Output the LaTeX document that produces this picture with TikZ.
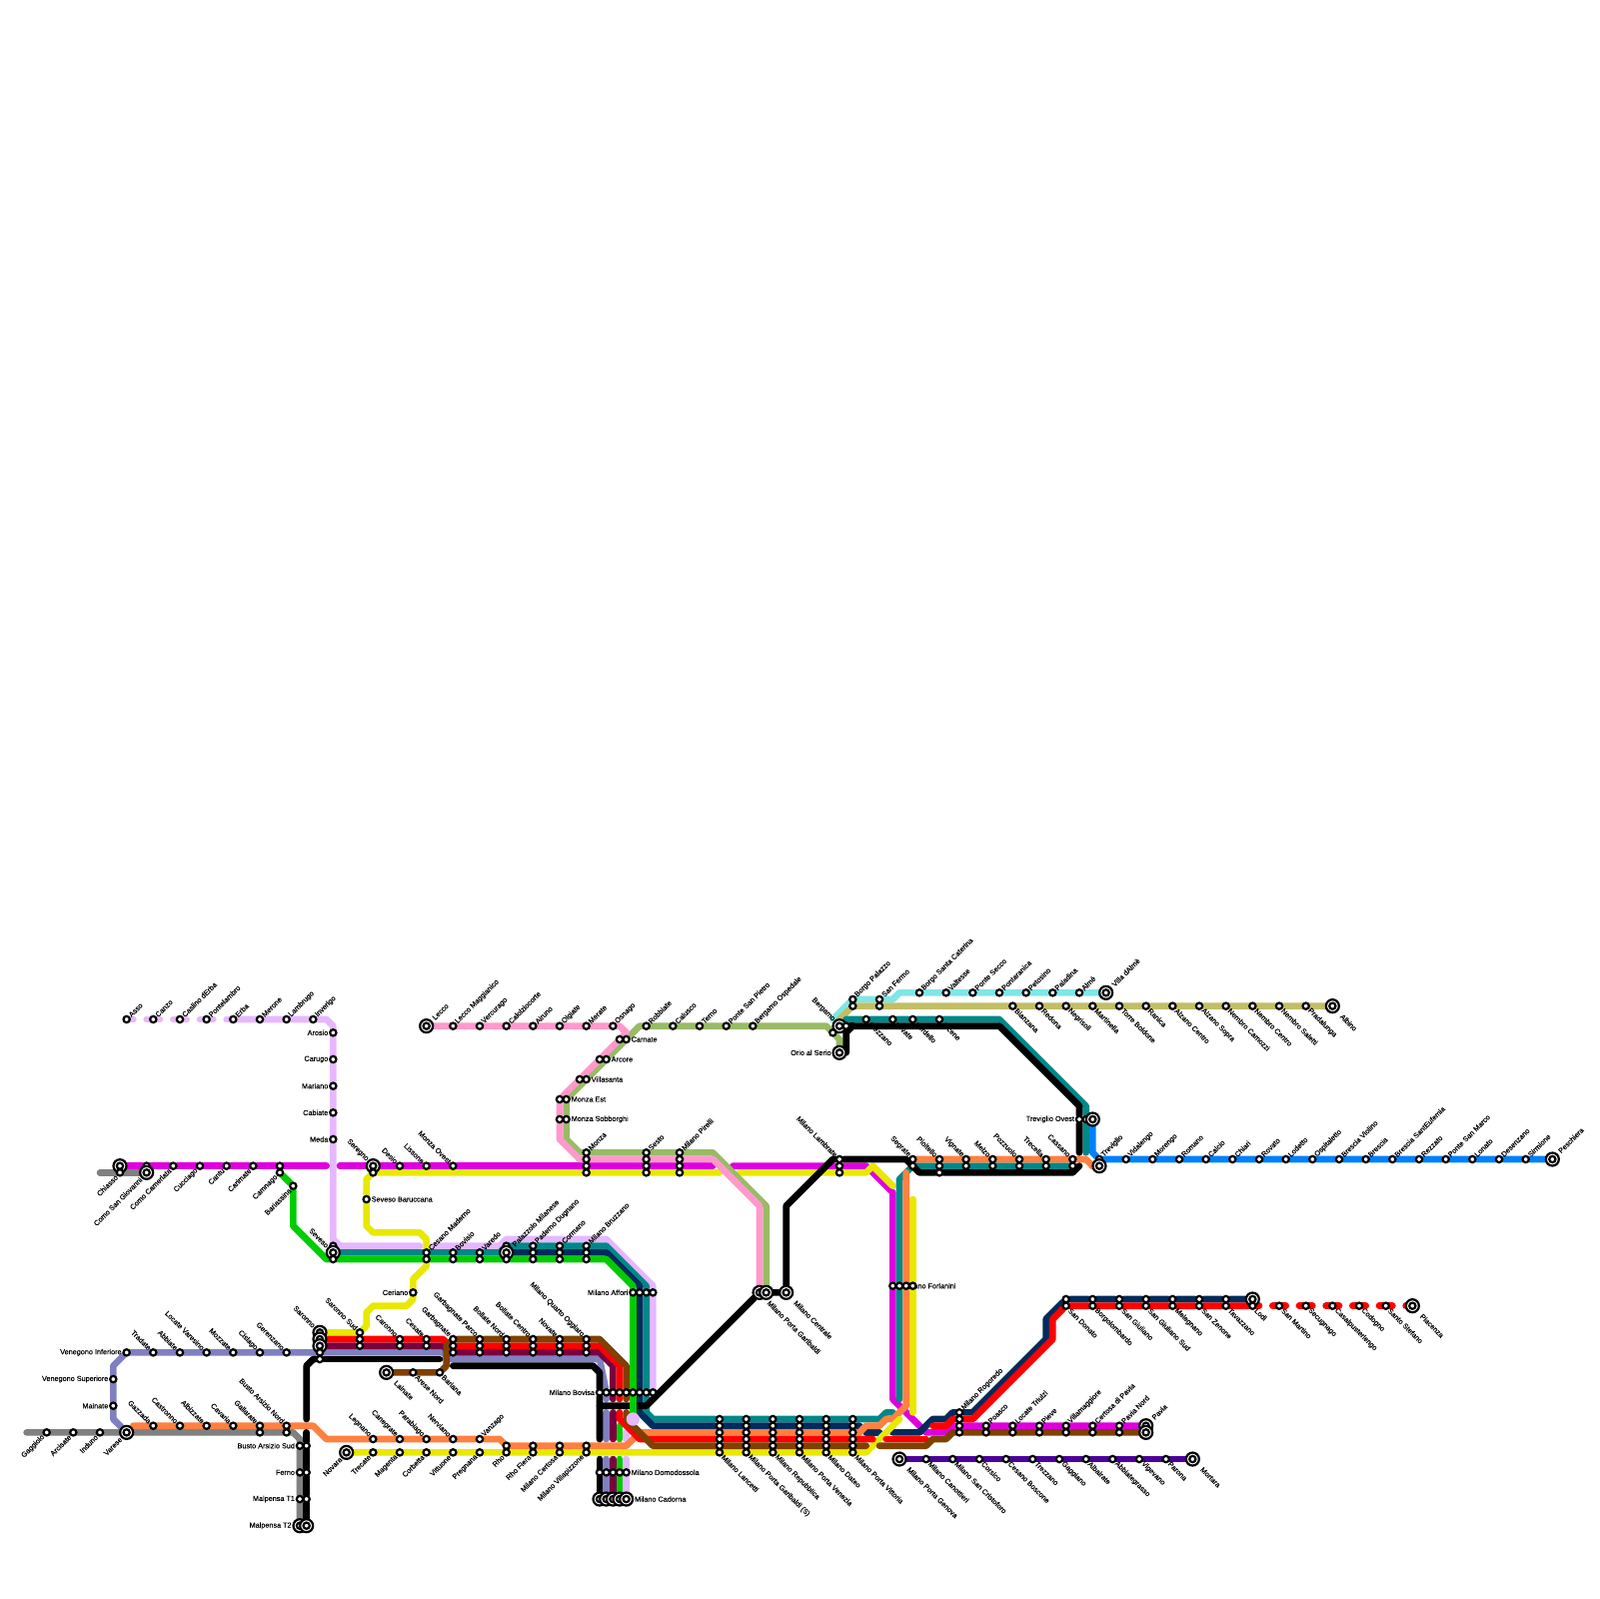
\documentclass[tikz,border=0pt]{standalone}
\usepackage{fontspec}
\setmainfont{Liberation Sans}
\newfontfamily\stnfam[FakeBold=0.25]{Liberation Sans}
\usetikzlibrary{backgrounds}
\definecolor{lngrey}{HTML}{808080}
\definecolor{lnlilac}{HTML}{E6B8FF}
\definecolor{lnmag}{HTML}{DD00DD}
\definecolor{lnteal}{HTML}{008888}
\definecolor{lngreen}{HTML}{00CC00}
\definecolor{lnyellow}{HTML}{E8E800}
\definecolor{lnred}{HTML}{FF0000}
\definecolor{lnmaroon}{HTML}{7A0040}
\definecolor{lnpurple}{HTML}{8080C0}
\definecolor{lnnavy}{HTML}{002B5C}
\definecolor{lnorange}{HTML}{FF8040}
\definecolor{lnbrown}{HTML}{804000}
\definecolor{lnpink}{HTML}{FF99CC}
\definecolor{lnolive}{HTML}{99BB66}
\definecolor{lncyan}{HTML}{80E6E6}
\definecolor{lnkhaki}{HTML}{C2BE66}
\definecolor{lnblue}{HTML}{0080FF}
\definecolor{lnindigo}{HTML}{4B0099}
\newcommand{\stnfont}{\stnfam\fontsize{3.1}{3.4}\selectfont}

\begin{document}
\begin{tikzpicture}[
    x=1mm, y=-1mm,
    stn/.style={circle, draw=black, fill=white, line width=0.33mm, minimum size=0.95mm, inner sep=0pt},
    term/.style={circle, draw=black, fill=white, line width=0.33mm, minimum size=1.95mm, inner sep=0pt,
        path picture={\draw[line width=0.33mm] (path picture bounding box.center) circle (0.47mm);}},
    blob/.style={circle, fill=lnlilac, minimum size=2mm, inner sep=0pt},
    route/.style={draw=#1, line width=1mm, line cap=round, line join=round},
    dashroute/.style={route=#1, dash pattern=on 2mm off 2mm, dash phase=1mm},
    lbl/.style={font=\stnfont, inner sep=0pt},
    lblne/.style={lbl, rotate=45, anchor=west},
    lblse/.style={lbl, rotate=-45, anchor=west},
    lblsw/.style={lbl, rotate=45, anchor=east},
    lblnw/.style={lbl, rotate=-45, anchor=east},
    lblw/.style={lbl, anchor=east},
    lble/.style={lbl, anchor=west},
    tne/.style={label={[lblne]45:#1}},
    tse/.style={label={[lblse]-45:#1}},
    tsw/.style={label={[lblsw]225:#1}},
    tnw/.style={label={[lblnw]135:#1}},
    tw/.style={label={[lblw]180:#1}},
    te/.style={label={[lble]0:#1}},
    ttne/.style={label={[lblne, xshift=0.3mm]45:#1}},
    ttse/.style={label={[lblse, xshift=0.7mm]-45:#1}},
    label distance=0.05mm,
]
\useasboundingbox (0,0) rectangle (240,240);

% Free ends
\coordinate (grstart) at (4,215);
\coordinate (chstart) at (15,176);
\coordinate (orstart) at (20,214);
\coordinate (ligap1) at (63,187);
\coordinate (ligap2) at (65,187);
\coordinate (ligap3) at (94,215);
\coordinate (ligap4) at (94,216);
\coordinate (ligap5) at (94,219);
\coordinate (mggap1) at (49,175);
\coordinate (mggap2) at (51,175);
\coordinate (mggap3) at (107,175);
\coordinate (mggap4) at (110,175);
\coordinate (ylgap1) at (108,176);
\coordinate (ylgap2) at (111,176);
\coordinate (ylgap3) at (134,178);
\coordinate (ylgap4) at (137,180);
\coordinate (ylgap5) at (137,212);
\coordinate (ylgap6) at (135,213);
\coordinate (cystart) at (125,153);
\coordinate (khstart) at (126,153);
\coordinate (testart) at (127,153);
\coordinate (tegap1) at (163,173);
\coordinate (tegap2) at (135,177);
\coordinate (tegap3) at (135,210);
\coordinate (tegap4) at (161,175);
\coordinate (tegap5) at (134,212);
\coordinate (nvgap1) at (129,214);
\coordinate (nvgap2) at (130,215);
\coordinate (nvgap3) at (132,215);
\coordinate (nvgap4) at (134,215);
\coordinate (gngap1) at (95,212);
\coordinate (gngap2) at (93,214);
\coordinate (gngap3) at (93,216);
\coordinate (gngap4) at (93,219);
\coordinate (pugap1) at (91,210);
\coordinate (pugap2) at (91,212);
\coordinate (pugap3) at (91,216);
\coordinate (pugap4) at (91,219);
\coordinate (mrgap1) at (92,210);
\coordinate (mrgap2) at (92,212);
\coordinate (mrgap3) at (92,216);
\coordinate (mrgap4) at (92,219);
\coordinate (rdgap1) at (93,210);
\coordinate (rdgap2) at (93,212);
\coordinate (rdgap3) at (131,216);
\coordinate (rdgap4) at (133,216);
\coordinate (rdgap5) at (139,216);
\coordinate (rdgap6) at (140,214);
\coordinate (brgap1) at (94,210);
\coordinate (brgap2) at (94,212);
\coordinate (brgap3) at (130,217);
\coordinate (brgap4) at (132,217);
\coordinate (orgap1) at (136,176);
\coordinate (bkgap1) at (46,213);
\coordinate (bkgap2) at (46,215);
\coordinate (bkgap3) at (66,204);
\coordinate (bkgap4) at (68,205);
\coordinate (bkgap5) at (90,216);
\coordinate (bkgap6) at (90,219);
\coordinate (bkgap7) at (90,211);
\coordinate (bkgap8) at (162,175);
\coordinate (bkgap9) at (127,158);
\coordinate (bkgap10) at (162,173);

% Stations, Como and Brianza
\node[stn, tne=Asso] (asso) at (19,153) {};
\node[stn, tne=Canzo] (canzo) at (23,153) {};
\node[stn, tne=Caslino dErba] (caslino) at (27,153) {};
\node[stn, tne=Pontelambro] (pontelambro) at (31,153) {};
\node[stn, tne=Erba] (erba) at (35,153) {};
\node[stn, tne=Merone] (merone) at (39,153) {};
\node[stn, tne=Lambrugo] (lambrugo) at (43,153) {};
\node[stn, tne=Inverigo] (inverigo) at (47,153) {};
\node[stn, tw=Arosio] (arosio) at (50,155) {};
\node[stn, tw=Carugo] (carugo) at (50,159) {};
\node[stn, tw=Mariano] (mariano) at (50,163) {};
\node[stn, tw=Cabiate] (cabiate) at (50,167) {};
\node[stn, tw=Meda] (meda) at (50,171) {};
\node[term] (chiasso) at (18,175) {};
\node[stn, tsw=Chiasso] (chiassogr) at (18,176) {};
\node[stn] (comosgmg) at (22,175) {};
\node[term, tsw=Como San Giovanni] (comosggr) at (22,176) {};
\node[stn, tsw=Como Camerlata] (camerlata) at (26,175) {};
\node[stn, tsw=Cucciago] (cucciago) at (30,175) {};
\node[stn, tsw=Cantu] (cantu) at (34,175) {};
\node[stn, tsw=Carimate] (carimate) at (38,175) {};
\node[stn] (camnagomg) at (42,175) {};
\node[stn, tsw=Camnago] (camnagogn) at (42,176) {};
\node[stn, tsw=Bariassina] (bariassina) at (44,178) {};
\node[term, tnw=Seregno] (seregno) at (56,175) {};
\node[stn] (seregnoyl) at (56,176) {};
\node[stn, tnw=Desio] (desio) at (60,175) {};
\node[stn, tnw=Lissone] (lissone) at (64,175) {};
\node[stn, tnw=Monza Ovest] (monzaovest) at (68,175) {};
\node[stn, te=Seveso Baruccana] (baruccana) at (55,180) {};
\node[stn] (sevesoli) at (50,187) {};
\node[term, tnw=Seveso] (sevesote) at (50,188) {};
\node[stn] (sevesogn) at (50,189) {};

% Stations, Seveso branch
\node[stn, tne=Cesano Maderno] (cesanote) at (64,188) {};
\node[stn] (cesanogn) at (64,189) {};
\node[stn, tne=Bovisio] (bovisiote) at (68,188) {};
\node[stn] (bovisiogn) at (68,189) {};
\node[stn, tne=Varedo] (varedote) at (72,188) {};
\node[stn] (varedogn) at (72,189) {};
\node[stn] (palazzolote) at (76,187) {};
\node[term, ttne=Palazzolo Milanese] (palazzolonv) at (76,188) {};
\node[stn] (palazzologn) at (76,189) {};
\node[stn, tne=Paderno Dugnano] (padernote) at (80,187) {};
\node[stn] (padernonv) at (80,188) {};
\node[stn] (padernogn) at (80,189) {};
\node[stn, tne=Cormano] (cormanote) at (84,187) {};
\node[stn] (cormanonv) at (84,188) {};
\node[stn] (cormanogn) at (84,189) {};
\node[stn, tne=Milano Bruzzano] (bruzzanote) at (88,187) {};
\node[stn] (bruzzanonv) at (88,188) {};
\node[stn] (bruzzanogn) at (88,189) {};
\node[stn, tw=Milano Affori] (afforign) at (95,194) {};
\node[stn] (afforinv) at (96,194) {};
\node[stn] (afforite) at (97,194) {};
\node[stn] (afforili) at (98,194) {};
\node[stn, tw=Ceriano] (ceriano) at (62,194) {};

% Stations, Saronno
\node[term, tnw=Saronno] (saronnoyl) at (48,200) {};
\node[term] (saronnord) at (48,201) {};
\node[term] (saronnomr) at (48,202) {};
\node[stn] (saronnopu) at (48,203) {};
\node[stn] (saronnobk) at (48,204) {};
\node[stn, tnw=Saronno Sud] (sarsudyl) at (54,200) {};
\node[stn] (sarsudrd) at (54,201) {};
\node[stn] (sarsudmr) at (54,202) {};
\node[stn, tnw=Caronno] (caronnord) at (60,201) {};
\node[stn] (caronnomr) at (60,202) {};
\node[stn, tnw=Cesate] (cesaterd) at (64,201) {};
\node[stn] (cesatemr) at (64,202) {};
\node[stn, tnw=Garbagnate] (garbbr) at (68,201) {};
\node[stn] (garbrd) at (68,202) {};
\node[stn] (garbmr) at (68,203) {};
\node[stn, tnw=Garbagnate Parco] (parcobr) at (72,201) {};
\node[stn] (parcord) at (72,202) {};
\node[stn] (parcomr) at (72,203) {};
\node[stn, tnw=Bollate Nord] (bollnbr) at (76,201) {};
\node[stn] (bollnrd) at (76,202) {};
\node[stn] (bollnmr) at (76,203) {};
\node[stn, tnw=Bollate Centro] (bollcbr) at (80,201) {};
\node[stn] (bollcrd) at (80,202) {};
\node[stn] (bollcmr) at (80,203) {};
\node[stn, tnw=Novate] (novatebr) at (84,201) {};
\node[stn] (novaterd) at (84,202) {};
\node[stn] (novatemr) at (84,203) {};
\node[stn, tnw=Milano Quarto Oggiaro] (quartobr) at (88,201) {};
\node[stn] (quartord) at (88,202) {};
\node[stn] (quartomr) at (88,203) {};
\node[term, ttse=Lainate] (lainate) at (58,206) {};
\node[stn, tse=Arese Nord] (arese) at (62,206) {};
\node[stn, tse=Bariana] (bariana) at (66,206) {};

% Stations, Varese and Malpensa
\node[stn, tw=Venegono Inferiore] (inferiore) at (19,203) {};
\node[stn, tw=Venegono Superiore] (superiore) at (17,207) {};
\node[stn, tw=Mainate] (mainate) at (17,211) {};
\node[stn, tnw=Tradate] (tradate) at (23,203) {};
\node[stn, tnw=Abbiate] (abbiate) at (27,203) {};
\node[stn, tnw=Locate Varesino] (varesino) at (31,203) {};
\node[stn, tnw=Mozzate] (mozzate) at (35,203) {};
\node[stn, tnw=Cislago] (cislago) at (39,203) {};
\node[stn, tnw=Gerenzano] (gerenzano) at (43,203) {};
\node[stn, tnw=Gazzada] (gazzada) at (23,214) {};
\node[stn, tnw=Castronno] (castronno) at (27,214) {};
\node[stn, tnw=Albizzate] (albizzate) at (31,214) {};
\node[stn, tnw=Cavaria] (cavaria) at (35,214) {};
\node[stn, tnw=Gallarate] (gallarateor) at (39,214) {};
\node[stn, tnw=Busto Arsizio Nord] (bustonordor) at (43,214) {};
\node[stn, tsw=Gaggiolo] (gaggiolo) at (7,215) {};
\node[stn, tsw=Arcisate] (arcisate) at (11,215) {};
\node[stn, tsw=Induno] (induno) at (15,215) {};
\node[term, tsw=Varese] (varese) at (19,215) {};
\node[stn] (gallarategr) at (39,215) {};
\node[stn] (bustonordgr) at (43,215) {};
\node[stn, tw=Busto Arsizio Sud] (bustosudgr) at (45,217) {};
\node[stn] (bustosudbk) at (46,217) {};
\node[stn, tw=Ferno] (fernogr) at (45,221) {};
\node[stn] (fernobk) at (46,221) {};
\node[stn, tw=Malpensa T1] (tunogr) at (45,225) {};
\node[stn] (tunobk) at (46,225) {};
\node[term, tw=Malpensa T2] (tduegr) at (45,229) {};
\node[term] (tduebk) at (46,229) {};

% Stations, Novara and Rho
\node[stn, tnw=Legnano] (legnano) at (56,216) {};
\node[stn, tnw=Canegrate] (canegrate) at (60,216) {};
\node[stn, tnw=Parabiago] (parabiago) at (64,216) {};
\node[stn, tnw=Nerviano] (nerviano) at (68,216) {};
\node[stn, tne=Vanzago] (vanzago) at (72,216) {};
\node[term, tsw=Novara] (novara) at (52,218) {};
\node[stn, tsw=Trecate] (trecate) at (56,218) {};
\node[stn, tsw=Magenta] (magenta) at (60,218) {};
\node[stn, tsw=Corbetta] (corbetta) at (64,218) {};
\node[stn, tsw=Vittuone] (vittuone) at (68,218) {};
\node[stn, tsw=Pregnana] (pregnana) at (72,218) {};
\node[stn] (rhoor) at (76,217) {};
\node[stn, tsw=Rho] (rhoyl) at (76,218) {};
\node[stn] (fieraor) at (80,217) {};
\node[stn, tsw=Rho Fiera] (fierayl) at (80,218) {};
\node[stn] (certosaor) at (84,217) {};
\node[stn, tsw=Milano Certosa] (certosayl) at (84,218) {};
\node[stn] (villapizzor) at (88,217) {};
\node[stn, tsw=Milano Villapizzone] (villapizzyl) at (88,218) {};

% Stations, Bovisa to Cadorna
\node[stn, tw=Milano Bovisa] (bovisabk) at (90,209) {};
\node[stn] (bovisapu) at (91,209) {};
\node[stn] (bovisamr) at (92,209) {};
\node[stn] (bovisard) at (93,209) {};
\node[stn] (bovisabr) at (94,209) {};
\node[stn] (bovisagn) at (95,209) {};
\node[stn] (bovisanv) at (96,209) {};
\node[stn] (bovisate) at (97,209) {};
\node[stn] (bovisali) at (98,209) {};
\node[stn] (domobk) at (90,221) {};
\node[stn] (domopu) at (91,221) {};
\node[stn] (domomr) at (92,221) {};
\node[stn] (domogn) at (93,221) {};
\node[stn, te=Milano Domodossola] (domoli) at (94,221) {};
\node[term] (cadornabk) at (90,225) {};
\node[term] (cadornapu) at (91,225) {};
\node[term] (cadornamr) at (92,225) {};
\node[term] (cadornagn) at (93,225) {};
\node[term, te=Milano Cadorna] (cadornali) at (94,225) {};
\node[blob] (blobbovisa) at (95,213) {};

% Stations, Lecco and Bergamo
\node[term, ttne=Lecco] (lecco) at (64,154) {};
\node[stn, tne=Lecco Maggianico] (maggianico) at (68,154) {};
\node[stn, tne=Vercurago] (vercurago) at (72,154) {};
\node[stn, tne=Calolziocorte] (calolzio) at (76,154) {};
\node[stn, tne=Airuno] (airuno) at (80,154) {};
\node[stn, tne=Olgiate] (olgiate) at (84,154) {};
\node[stn, tne=Merate] (merate) at (88,154) {};
\node[stn, tne=Osnago] (osnago) at (92,154) {};
\node[stn] (carnatepk) at (93,156) {};
\node[stn, te=Carnate] (carnateol) at (94,156) {};
\node[stn] (arcorepk) at (90,159) {};
\node[stn, te=Arcore] (arcoreol) at (91,159) {};
\node[stn] (villasantapk) at (87,162) {};
\node[stn, te=Villasanta] (villasantaol) at (88,162) {};
\node[stn] (monzaestpk) at (84,165) {};
\node[stn, te=Monza Est] (monzaestol) at (85,165) {};
\node[stn] (sobborghipk) at (84,168) {};
\node[stn, te=Monza Sobborghi] (sobborghiol) at (85,168) {};
\node[stn, tne=Monza] (monzaol) at (88,173) {};
\node[stn] (monzapk) at (88,174) {};
\node[stn] (monzamg) at (88,175) {};
\node[stn] (monzayl) at (88,176) {};
\node[stn, tne=Sesto] (sestool) at (97,173) {};
\node[stn] (sestopk) at (97,174) {};
\node[stn] (sestomg) at (97,175) {};
\node[stn] (sestoyl) at (97,176) {};
\node[stn, tne=Milano Pirelli] (pirelliol) at (102,173) {};
\node[stn] (pirellipk) at (102,174) {};
\node[stn] (pirellimg) at (102,175) {};
\node[stn] (pirelliyl) at (102,176) {};
\node[stn, tne=Robbiate] (robbiate) at (97,154) {};
\node[stn, tne=Calusco] (calusco) at (101,154) {};
\node[stn, tne=Terno] (terno) at (105,154) {};
\node[stn, tne=Ponte San Pietro] (sanpietro) at (109,154) {};
\node[stn, tne=Bergamo Ospedale] (ospedale) at (113,154) {};
\node[term, tnw=Bergamo] (bergamo) at (126,154) {};
\node[stn] (bergamool) at (125,155) {};
\node[stn] (bergamobk) at (127,154) {};
\node[term, tw=Orio al Serio] (orio) at (126,158) {};
\node[stn, tne=Borgo Palazzo] (palazzocy) at (128,150) {};
\node[stn] (palazzokh) at (128,151) {};
\node[stn, tne=San Fermo] (fermocy) at (132,150) {};
\node[stn] (fermokh) at (132,151) {};
\node[stn, tne=Borgo Santa Caterina] (caterina) at (138,149) {};
\node[stn, tne=Valtesse] (valtesse) at (142,149) {};
\node[stn, tne=Ponte Secco] (pontesecco) at (146,149) {};
\node[stn, tne=Pontaranica] (pontaranica) at (150,149) {};
\node[stn, tne=Petosino] (petosino) at (154,149) {};
\node[stn, tne=Paladina] (paladina) at (158,149) {};
\node[stn, tne=Almè] (alme) at (162,149) {};
\node[term, ttne=Villa dAlmè] (villaalme) at (166,149) {};
\node[stn, tse=Bianzana] (bianzana) at (152,151) {};
\node[stn, tse=Redona] (redona) at (156,151) {};
\node[stn, tse=Negrisoli] (negrisoli) at (160,151) {};
\node[stn, tse=Martinella] (martinella) at (164,151) {};
\node[stn, tse=Torre Boldone] (boldone) at (168,151) {};
\node[stn, tse=Ranica] (ranica) at (172,151) {};
\node[stn, tse=Alzano Centro] (alzanoc) at (176,151) {};
\node[stn, tse=Alzano Sopra] (alzanos) at (180,151) {};
\node[stn, tse=Nembro Camozzi] (camozzi) at (184,151) {};
\node[stn, tse=Nembro Centro] (nembroc) at (188,151) {};
\node[stn, tse=Nembro Saletti] (saletti) at (192,151) {};
\node[stn, tse=Pradalunga] (pradalunga) at (196,151) {};
\node[term, ttse=Albino] (albino) at (200,151) {};
\node[stn] (stezzano) at (130,153) {};
\node[stn] (levate) at (134,153) {};
\node[stn] (verdello) at (137,153) {};
\node[stn] (arcene) at (141,153) {};

% Stations, Treviglio and Brescia
\node[stn, tw=Treviglio Ovest] (ovestbk) at (162,168) {};
\node[stn] (ovestte) at (163,168) {};
\node[term] (ovest) at (164,168) {};
\node[stn, tnw=Milano Lambrate] (lambratebk) at (126,174) {};
\node[stn] (lambratemg) at (126,175) {};
\node[stn] (lambrateyl) at (126,176) {};
\node[stn, tnw=Segrate] (segrateor) at (137,174) {};
\node[stn] (segratete) at (137,175) {};
\node[stn, tnw=Pioltello] (pioltelloor) at (141,174) {};
\node[stn] (pioltellote) at (141,175) {};
\node[stn] (pioltellobk) at (141,176) {};
\node[stn, tnw=Vignate] (vignateor) at (145,174) {};
\node[stn] (vignatete) at (145,175) {};
\node[stn, tnw=Melzo] (melzoor) at (149,174) {};
\node[stn] (melzote) at (149,175) {};
\node[stn, tnw=Pozzuolo] (pozzuoloor) at (153,174) {};
\node[stn] (pozzuolote) at (153,175) {};
\node[stn, tnw=Trecella] (trecellaor) at (157,174) {};
\node[stn] (trecellate) at (157,175) {};
\node[stn, tnw=Cassano] (cassanoor) at (161,174) {};
\node[stn] (cassanote) at (161,175) {};
\node[stn, tne=Treviglio] (treviglio) at (165,174) {};
\node[term] (trevigliot) at (165,175) {};
\node[stn, tne=Vidalengo] (vidalengo) at (169,174) {};
\node[stn, tne=Morengo] (morengo) at (173,174) {};
\node[stn, tne=Romano] (romano) at (177,174) {};
\node[stn, tne=Calcio] (calcio) at (181,174) {};
\node[stn, tne=Chiari] (chiari) at (185,174) {};
\node[stn, tne=Rovato] (rovato) at (189,174) {};
\node[stn, tne=Lodetto] (lodetto) at (193,174) {};
\node[stn, tne=Ospitaletto] (ospitaletto) at (197,174) {};
\node[stn, tne=Brescia Violino] (violino) at (201,174) {};
\node[stn, tne=Brescia] (brescia) at (205,174) {};
\node[stn, tne=Brescia SantEufemia] (eufemia) at (209,174) {};
\node[stn, tne=Rezzato] (rezzato) at (213,174) {};
\node[stn, tne=Ponte San Marco] (sanmarco) at (217,174) {};
\node[stn, tne=Lonato] (lonato) at (221,174) {};
\node[stn, tne=Desenzano] (desenzano) at (225,174) {};
\node[stn, tne=Sirmione] (sirmione) at (229,174) {};
\node[term, ttne=Peschiera] (peschiera) at (233,174) {};

% Stations, Passante
\node[term, ttse=Milano Porta Garibaldi] (garibaldipk) at (114,194) {};
\node[term] (garibaldiol) at (115,194) {};
\node[term, ttse=Milano Centrale] (centrale) at (118,194) {};
\node[stn] (forlaninimg) at (134,193) {};
\node[stn] (forlaninite) at (135,193) {};
\node[stn] (forlaninior) at (136,193) {};
\node[stn] (forlaniniyl) at (137,193) {};
\node[stn] (lancettite) at (108,213) {};
\node[stn] (lancettinv) at (108,214) {};
\node[stn] (lancettior) at (108,215) {};
\node[stn] (lancettird) at (108,216) {};
\node[stn] (lancettibr) at (108,217) {};
\node[stn, tse=Milano Lancetti] (lancettiyl) at (108,218) {};
\node[stn] (garisute) at (112,213) {};
\node[stn] (garisunv) at (112,214) {};
\node[stn] (garisuor) at (112,215) {};
\node[stn] (garisurd) at (112,216) {};
\node[stn] (garisubr) at (112,217) {};
\node[stn, tse=Milano Porta Garibaldi (S)] (garisuyl) at (112,218) {};
\node[stn] (repubte) at (116,213) {};
\node[stn] (repubnv) at (116,214) {};
\node[stn] (repubor) at (116,215) {};
\node[stn] (repubrd) at (116,216) {};
\node[stn] (repubbr) at (116,217) {};
\node[stn, tse=Milano Repubblica] (repubyl) at (116,218) {};
\node[stn] (veneziate) at (120,213) {};
\node[stn] (venezianv) at (120,214) {};
\node[stn] (veneziaor) at (120,215) {};
\node[stn] (veneziard) at (120,216) {};
\node[stn] (veneziabr) at (120,217) {};
\node[stn, tse=Milano Porta Venezia] (veneziayl) at (120,218) {};
\node[stn] (dateote) at (124,213) {};
\node[stn] (dateonv) at (124,214) {};
\node[stn] (dateoor) at (124,215) {};
\node[stn] (dateord) at (124,216) {};
\node[stn] (dateobr) at (124,217) {};
\node[stn, tse=Milano Dateo] (dateoyl) at (124,218) {};
\node[stn] (vittoriate) at (128,213) {};
\node[stn] (vittorianv) at (128,214) {};
\node[stn] (vittoriaor) at (128,215) {};
\node[stn] (vittoriard) at (128,216) {};
\node[stn] (vittoriabr) at (128,217) {};
\node[stn, tse=Milano Porta Vittoria] (vittoriayl) at (128,218) {};

% Stations, south east
\node[stn, tne=Milano Rogoredo] (rogoredonv) at (144,212) {};
\node[stn] (rogoredord) at (144,213) {};
\node[stn] (rogoredomg) at (144,214) {};
\node[stn] (rogoredobr) at (144,215) {};
\node[stn, tne=Poasco] (poascomg) at (148,214) {};
\node[stn] (poascobr) at (148,215) {};
\node[stn, tne=Locate Triulzi] (triulzimg) at (152,214) {};
\node[stn] (triulzibr) at (152,215) {};
\node[stn, tne=Pieve] (pievemg) at (156,214) {};
\node[stn] (pievebr) at (156,215) {};
\node[stn, tne=Villamaggiore] (villamagmg) at (160,214) {};
\node[stn] (villamagbr) at (160,215) {};
\node[stn, tne=Certosa di Pavia] (cpaviamg) at (164,214) {};
\node[stn] (cpaviabr) at (164,215) {};
\node[stn, tne=Pavia Nord] (pnordmg) at (168,214) {};
\node[stn] (pnordbr) at (168,215) {};
\node[term, ttne=Pavia] (paviamg) at (172,214) {};
\node[term] (paviabr) at (172,215) {};
\node[stn] (donatonv) at (160,195) {};
\node[stn, tse=San Donato] (donatord) at (160,196) {};
\node[stn] (borgonv) at (164,195) {};
\node[stn, tse=Borgolombardo] (borgord) at (164,196) {};
\node[stn] (giulianonv) at (168,195) {};
\node[stn, tse=San Giuliano] (giulianord) at (168,196) {};
\node[stn] (giusudnv) at (172,195) {};
\node[stn, tse=San Giuliano Sud] (giusudrd) at (172,196) {};
\node[stn] (melegnanonv) at (176,195) {};
\node[stn, tse=Melegnano] (melegnanord) at (176,196) {};
\node[stn] (zenonenv) at (180,195) {};
\node[stn, tse=San Zenone] (zenonerd) at (180,196) {};
\node[stn] (tavazzanonv) at (184,195) {};
\node[stn, tse=Tavazzano] (tavazzanord) at (184,196) {};
\node[term] (lodinv) at (188,195) {};
\node[stn, tse=Lodi] (lodird) at (188,196) {};
\node[stn, tse=San Martino] (sanmartino) at (192,196) {};
\node[stn, tse=Secugnago] (secugnago) at (196,196) {};
\node[stn, tse=Casalpusterlengo] (casalp) at (200,196) {};
\node[stn, tse=Codogno] (codogno) at (204,196) {};
\node[stn, tse=Santo Stefano] (santostefano) at (208,196) {};
\node[term, ttse=Piacenza] (piacenza) at (212,196) {};
\node[term, ttse=Milano Porta Genova] (genova) at (135,219) {};
\node[stn, tse=Milano Canottieri] (canottieri) at (139,219) {};
\node[stn, tse=Milano San Cristoforo] (cristoforo) at (143,219) {};
\node[stn, tse=Corsico] (corsico) at (147,219) {};
\node[stn, tse=Cesano Boscone] (boscone) at (151,219) {};
\node[stn, tse=Trezzano] (trezzano) at (155,219) {};
\node[stn, tse=Gaggiano] (gaggiano) at (159,219) {};
\node[stn, tse=Albairate] (albairate) at (163,219) {};
\node[stn, tse=Abbiategrasso] (abbiategrasso) at (167,219) {};
\node[stn, tse=Vigevano] (vigevano) at (171,219) {};
\node[stn, tse=Parona] (parona) at (175,219) {};
\node[term, ttse=Mortara] (mortara) at (179,219) {};

\begin{scope}[on background layer]
% Labels under the routes
\node[lblse] (stezzanolb) at (130.5,153.5) {Stezzano};
\node[lblse] (levatelb) at (134.5,153.5) {Levate};
\node[lblse] (verdellolb) at (137.5,153.5) {Verdello};
\node[lblse] (arcenelb) at (141.5,153.5) {Arcene};
\node[lble] (forlaninilb) at (135.7,193) {Milano Forlanini};

% Routes
\draw[route=lngrey] (grstart) -- (gaggiolo) -- (arcisate) -- (induno) -- (varese) -- (gallarategr) -- (bustonordgr) -- (44,215) -- (45,216) -- (bustosudgr) -- (fernogr) -- (tunogr) -- (tduegr);
\draw[route=lngrey] (chstart) -- (chiassogr) -- (comosggr);

\draw[dashroute=lnlilac] (asso.center) -- (erba.center);
\draw[route=lnlilac] (erba) -- (merone) -- (lambrugo) -- (inverigo) -- (49,153) -- (50,154) -- (arosio) -- (carugo) -- (mariano) -- (cabiate) -- (meda) -- (sevesoli);
\draw[route=lnlilac] (50,186) -- (51,187) -- (ligap1);
\draw[route=lnlilac] (ligap2) -- (75,187) -- (76,186) -- (91,186) -- (98,193) -- (afforili) -- (bovisali);
\draw[route=lnlilac] (ligap3) -- (ligap4);
\draw[route=lnlilac] (ligap5) -- (domoli) -- (cadornali);

\draw[route=lnmag] (chiasso) -- (comosgmg) -- (camerlata) -- (cucciago) -- (cantu) -- (carimate) -- (camnagomg) -- (mggap1);
\draw[route=lnmag] (mggap2) -- (seregno) -- (desio) -- (lissone) -- (monzaovest) -- (monzamg) -- (sestomg) -- (pirellimg) -- (mggap3);
\draw[route=lnmag] (mggap4) -- (lambratemg) -- (130,175) -- (134,179) -- (forlaninimg) -- (134,210) -- (139,215) -- (142,215) -- (143,214) -- (rogoredomg) -- (poascomg) -- (triulzimg) -- (pievemg) -- (villamagmg) -- (cpaviamg) -- (pnordmg) -- (paviamg);

\draw[route=lnyellow] (saronnoyl) -- (sarsudyl) -- (55,199) -- (55,197) -- (56,196) -- (61,196) -- (62,195) -- (ceriano) -- (62,192) -- (64,190) -- (64,186) -- (63,185) -- (56,185) -- (55,184) -- (baruccana) -- (55,177) -- (seregnoyl) -- (monzayl) -- (sestoyl) -- (pirelliyl) -- (ylgap1);
\draw[route=lnyellow] (ylgap2) -- (lambrateyl) -- (130,176) -- (131,175) -- (ylgap3);
\draw[route=lnyellow] (ylgap4) -- (forlaniniyl) -- (ylgap5);

\draw[route=lncyan] (cystart) -- (palazzocy) -- (fermocy) -- (134,150) -- (135,149) -- (caterina) -- (valtesse) -- (pontesecco) -- (pontaranica) -- (petosino) -- (paladina) -- (alme) -- (villaalme);
\draw[route=lnkhaki] (khstart) -- (palazzokh) -- (fermokh) -- (bianzana) -- (redona) -- (negrisoli) -- (martinella) -- (boldone) -- (ranica) -- (alzanoc) -- (alzanos) -- (camozzi) -- (nembroc) -- (saletti) -- (pradalunga) -- (albino);
\draw[route=lnolive] (orio) -- (126,156) -- (bergamool) -- (124,154) -- (ospedale) -- (sanpietro) -- (terno) -- (calusco) -- (robbiate) -- (96,154) -- (carnateol) -- (arcoreol) -- (villasantaol) -- (monzaestol) -- (sobborghiol) -- (85,171) -- (87,173) -- (monzaol) -- (sestool) -- (pirelliol) -- (107,173) -- (115,181) -- (garibaldiol);
\draw[route=lnpink] (lecco) -- (maggianico) -- (vercurago) -- (calolzio) -- (airuno) -- (olgiate) -- (merate) -- (osnago) -- (93,154) -- (94,155) -- (carnatepk) -- (arcorepk) -- (villasantapk) -- (monzaestpk) -- (sobborghipk) -- (84,171) -- (87,174) -- (monzapk) -- (sestopk) -- (pirellipk) -- (107,174) -- (114,181) -- (garibaldipk);

\draw[route=lnteal] (sevesote) -- (cesanote) -- (bovisiote) -- (varedote) -- (75,188) -- (palazzolote) -- (padernote) -- (cormanote) -- (bruzzanote) -- (91,187) -- (97,193) -- (afforite) -- (bovisate) -- (97,212) -- (98,213) -- (lancettite) -- (garisute) -- (repubte) -- (veneziate) -- (dateote) -- (vittoriate) -- (132,213) -- (133,212) -- (tegap5);
\draw[route=lnteal] (testart) -- (stezzano) -- (levate) -- (verdello) -- (arcene) -- (150,153) -- (163,166) -- (ovestte) -- (tegap1);
\draw[route=lnteal] (tegap3) -- (forlaninite) -- (tegap2) -- (segratete) -- (pioltellote) -- (vignatete) -- (melzote) -- (pozzuolote) -- (trecellate) -- (cassanote) -- (tegap4);

\draw[route=lnnavy] (palazzolonv) -- (padernonv) -- (cormanonv) -- (bruzzanonv) -- (91,188) -- (96,193) -- (afforinv) -- (bovisanv) -- (96,212) -- (98,214) -- (lancettinv) -- (garisunv) -- (repubnv) -- (venezianv) -- (dateonv) -- (vittorianv) -- (nvgap1);
\draw[route=lnnavy] (nvgap2) -- (nvgap3);
\draw[route=lnnavy] (nvgap4) -- (138,215) -- (140,213) -- (142,213) -- (143,212) -- (rogoredonv) -- (146,212) -- (157,201) -- (157,198) -- (donatonv) -- (borgonv) -- (giulianonv) -- (giusudnv) -- (melegnanonv) -- (zenonenv) -- (tavazzanonv) -- (lodinv);

\draw[route=lngreen] (camnagogn) -- (bariassina) -- (44,184) -- (49,189) -- (sevesogn) -- (cesanogn) -- (bovisiogn) -- (varedogn) -- (palazzologn) -- (padernogn) -- (cormanogn) -- (bruzzanogn) -- (91,189) -- (95,193) -- (afforign);
\draw[route=lngreen] (gngap2) -- (gngap3);
\draw[route=lngreen] (gngap4) -- (domogn) -- (cadornagn);

\draw[route=lnpurple] (varese) -- (17,213) -- (mainate) -- (superiore) -- (17,205) -- (inferiore) -- (tradate) -- (abbiate) -- (varesino) -- (mozzate) -- (cislago) -- (gerenzano) -- (saronnopu) -- (66.5,203) -- (67.5,204) -- (90,204) -- (bovisapu) -- (pugap1);
\draw[route=lnpurple] (pugap2) -- (pugap3);
\draw[route=lnpurple] (pugap4) -- (domopu) -- (cadornapu);

\draw[route=lnmaroon] (saronnomr) -- (sarsudmr) -- (caronnomr) -- (cesatemr) -- (66.5,202) -- (67.5,203) -- (garbmr) -- (parcomr) -- (bollnmr) -- (bollcmr) -- (novatemr) -- (quartomr) -- (90,203) -- (92,205) -- (bovisamr) -- (mrgap1);
\draw[route=lnmaroon] (mrgap2) -- (mrgap3);
\draw[route=lnmaroon] (mrgap4) -- (domomr) -- (cadornamr);

\draw[route=lnorange] (orstart) -- (gazzada) -- (castronno) -- (albizzate) -- (cavaria) -- (gallarateor) -- (bustonordor) -- (47,214) -- (49,216) -- (legnano) -- (canegrate) -- (parabiago) -- (nerviano) -- (vanzago) -- (75,216) -- (rhoor) -- (fieraor) -- (certosaor) -- (villapizzor) -- (94,217) -- (96,215) -- (lancettior) -- (garisuor) -- (repubor) -- (veneziaor) -- (dateoor) -- (vittoriaor) -- (129,215) -- (130,214) -- (132,214) -- (133,213) -- (134,213) -- (136,211) -- (forlaninior) -- (orgap1);
\draw[route=lnorange] (segrateor) -- (pioltelloor) -- (vignateor) -- (melzoor) -- (pozzuoloor) -- (trecellaor) -- (cassanoor) -- (163,174) -- (164,175) -- (trevigliot);

\draw[route=lnyellow] (novara) -- (trecate) -- (magenta) -- (corbetta) -- (vittuone) -- (pregnana) -- (rhoyl) -- (fierayl) -- (certosayl) -- (villapizzyl) -- (lancettiyl) -- (garisuyl) -- (repubyl) -- (veneziayl) -- (dateoyl) -- (vittoriayl) -- (130,218) -- (ylgap6);

\draw[route=lnred] (saronnord) -- (sarsudrd) -- (caronnord) -- (cesaterd) -- (66.5,201) -- (67.5,202) -- (garbrd) -- (parcord) -- (bollnrd) -- (bollcrd) -- (novaterd) -- (quartord) -- (90,202) -- (93,205) -- (bovisard) -- (rdgap1);
\draw[route=lnred] (rdgap2) -- (93,213) -- (96,216) -- (lancettird) -- (garisurd) -- (repubrd) -- (veneziard) -- (dateord) -- (vittoriard) -- (rdgap3);
\draw[route=lnred] (rdgap4) -- (rdgap5);
\draw[route=lnred] (rdgap6) -- (142,214) -- (143,213) -- (rogoredord) -- (146,213) -- (158,201) -- (158,198) -- (donatord) -- (borgord) -- (giulianord) -- (giusudrd) -- (melegnanord) -- (zenonerd) -- (tavazzanord) -- (lodird);
\draw[dashroute=lnred] (lodird.center) -- (piacenza.center);

\draw[route=lnbrown] (lainate) -- (arese) -- (bariana) -- (67,205) -- (67,202) -- (garbbr) -- (parcobr) -- (bollnbr) -- (bollcbr) -- (novatebr) -- (quartobr) -- (90,201) -- (94,205) -- (bovisabr) -- (brgap1);
\draw[route=lnbrown] (brgap2) -- (94,213) -- (98,217) -- (lancettibr) -- (garisubr) -- (repubbr) -- (veneziabr) -- (dateobr) -- (vittoriabr) -- (brgap3);
\draw[route=lnbrown] (brgap4) -- (139,217) -- (140,216) -- (142,216) -- (143,215) -- (rogoredobr) -- (poascobr) -- (triulzibr) -- (pievebr) -- (villamagbr) -- (cpaviabr) -- (pnordbr) -- (paviabr);

\draw[route=lnblue] (ovest) -- (164,173) -- (treviglio) -- (vidalengo) -- (morengo) -- (romano) -- (calcio) -- (chiari) -- (rovato) -- (lodetto) -- (ospitaletto) -- (violino) -- (brescia) -- (eufemia) -- (rezzato) -- (sanmarco) -- (lonato) -- (desenzano) -- (sirmione) -- (peschiera);
\draw[route=lnindigo] (genova) -- (canottieri) -- (cristoforo) -- (corsico) -- (boscone) -- (trezzano) -- (gaggiano) -- (albairate) -- (abbiategrasso) -- (vigevano) -- (parona) -- (mortara);

\draw[route=black] (saronnobk) -- (47,204) -- (46,205) -- (bkgap1);
\draw[route=black] (bkgap2) -- (bustosudbk) -- (fernobk) -- (tunobk) -- (tduebk);
\draw[route=black] (saronnobk) -- (bkgap3);
\draw[route=black] (bkgap4) -- (89,205) -- (90,206) -- (bovisabk) -- (bkgap5);
\draw[route=black] (bkgap6) -- (domobk) -- (cadornabk);
\draw[route=black] (bkgap7) -- (97,211) -- (garibaldipk) -- (centrale) -- (118,181) -- (125,174) -- (lambratebk) -- (136,174) -- (138,176) -- (pioltellobk) -- (161,176) -- (bkgap8);
\draw[route=black] (bkgap9) -- (127,155) -- (128,154) -- (150,154) -- (162,166) -- (ovestbk) -- (bkgap10);
\draw[route=black] (bergamobk) -- (128,154);

\draw[route=lngreen] (afforign) -- (bovisagn) -- (gngap1);
\end{scope}

\end{tikzpicture}
\end{document}
